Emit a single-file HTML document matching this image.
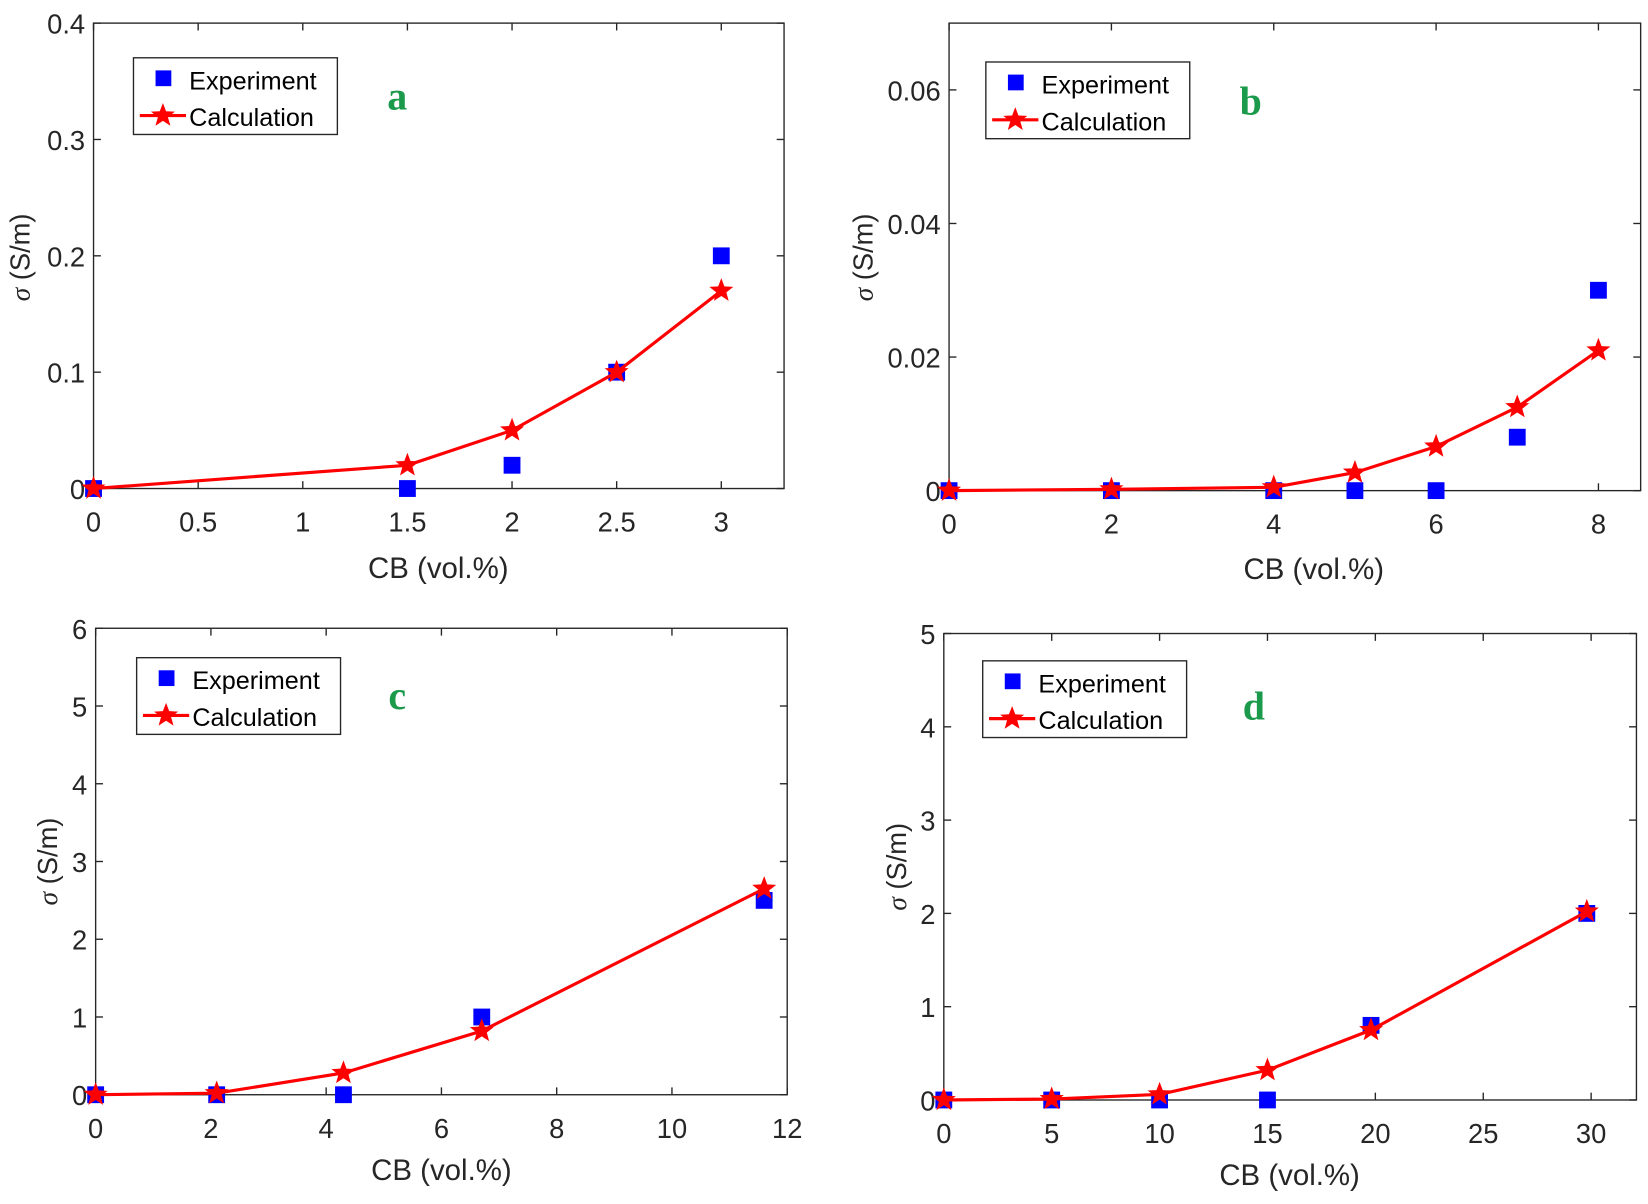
<!DOCTYPE html>
<html><head><meta charset="utf-8"><style>
html,body{margin:0;padding:0;background:#fff;}
svg{display:block;}
</style></head><body>
<svg id="s" width="1648" height="1204" viewBox="0 0 1568 1146" preserveAspectRatio="none" xmlns="http://www.w3.org/2000/svg"></svg>
<script>
const S=document.getElementById('s');let h='';
const P=[
{L:89,R:746,T:22,B:465,x0:0,x1:3.3,y1:0.4,xt:[0,0.5,1,1.5,2,2.5,3],yt:[0,0.1,0.2,0.3,0.4],
 ex:[[0,0],[1.5,0],[2,0.02],[2.5,0.1],[3,0.2]],ca:[[0,0],[1.5,0.02],[2,0.05],[2.5,0.1],[3,0.17]],
 leg:[127,55],lab:'a',lx:378,ly:104,yl:[18,245],xl:[417,550]},
{L:903,R:1561,T:22,B:467,x0:0,x1:8.52,y1:0.07,xt:[0,2,4,6,8],yt:[0,0.02,0.04,0.06],
 ex:[[0,0],[2,0],[4,0],[5,0],[6,0],[7,0.008],[8,0.03]],ca:[[0,0],[2,0.0002],[4,0.0005],[5,0.0027],[6,0.0066],[7,0.0125],[8,0.021]],
 leg:[938,59],lab:'b',lx:1190,ly:109,yl:[820,245],xl:[1250,551]},
{L:91,R:749,T:598,B:1042,x0:0,x1:12,y1:6,xt:[0,2,4,6,8,10,12],yt:[0,1,2,3,4,5,6],
 ex:[[0,0],[2.1,0],[4.3,0],[6.7,1],[11.6,2.5]],ca:[[0,0],[2.1,0.02],[4.3,0.28],[6.7,0.82],[11.6,2.65]],
 leg:[130,626],lab:'c',lx:378,ly:675,yl:[44,820],xl:[420,1123]},
{L:898,R:1557,T:603,B:1047,x0:0,x1:32.1,y1:5,xt:[0,5,10,15,20,25,30],yt:[0,1,2,3,4,5],
 ex:[[0,0],[5,0],[10,0],[15,0],[19.8,0.8],[29.8,2]],ca:[[0,0],[5,0.01],[10,0.06],[15,0.32],[19.8,0.75],[29.8,2.02]],
 leg:[935,629],lab:'d',lx:1193,ly:685,yl:[852,825],xl:[1227,1128]}
];
function star(cx,cy,r){let p=[];for(let i=0;i<10;i++){const a=-Math.PI/2+i*Math.PI/5;const rr=i%2?r*0.42:r;p.push((cx+rr*Math.cos(a)).toFixed(1)+','+(cy+rr*Math.sin(a)).toFixed(1));}return '<polygon points="'+p.join(' ')+'" fill="#f00"/>';}
const F='font-family="Liberation Sans, Arial, sans-serif"';
P.forEach(p=>{
 const X=v=>p.L+(v-p.x0)/(p.x1-p.x0)*(p.R-p.L),Y=v=>p.B-v/p.y1*(p.B-p.T);
 h+=`<rect x="${p.L}" y="${p.T}" width="${p.R-p.L}" height="${p.B-p.T}" fill="none" stroke="#262626" stroke-width="1.3"/>`;
 p.xt.forEach(t=>{const x=X(t);h+=`<line x1="${x}" y1="${p.B}" x2="${x}" y2="${p.B-7}" stroke="#262626" stroke-width="1.3"/><line x1="${x}" y1="${p.T}" x2="${x}" y2="${p.T+7}" stroke="#262626" stroke-width="1.3"/><text x="${x}" y="${p.B+41}" ${F} font-size="26" text-anchor="middle" fill="#262626">${t}</text>`;});
 p.yt.forEach(t=>{const y=Y(t);h+=`<line x1="${p.L}" y1="${y}" x2="${p.L+7}" y2="${y}" stroke="#262626" stroke-width="1.3"/><line x1="${p.R}" y1="${y}" x2="${p.R-7}" y2="${y}" stroke="#262626" stroke-width="1.3"/><text x="${p.L-8}" y="${y+10}" ${F} font-size="26" text-anchor="end" fill="#262626">${t}</text>`;});
 h+=`<text x="${p.xl[0]}" y="${p.xl[1]}" ${F} font-size="28" text-anchor="middle" fill="#262626">CB (vol.%)</text>`;
 h+=`<text transform="translate(${p.yl[0]+10},${p.yl[1]}) rotate(-90)" ${F} font-size="26" text-anchor="middle" fill="#262626"><tspan font-family="Liberation Serif, serif" font-style="italic">σ</tspan> (S/m)</text>`;
 p.ex.forEach(e=>{h+=`<rect x="${X(e[0])-8}" y="${Y(e[1])-8}" width="16" height="16" fill="#0000ff"/>`;});
 h+=`<polyline points="${p.ca.map(c=>X(c[0])+','+Y(c[1])).join(' ')}" fill="none" stroke="#f00" stroke-width="3"/>`;
 p.ca.forEach(c=>{h+=star(X(c[0]),Y(c[1]),12);});
 const [lx,ly]=p.leg;
 h+=`<rect x="${lx}" y="${ly}" width="194" height="73" fill="#fff" stroke="#262626" stroke-width="1.3"/>`;
 h+=`<rect x="${lx+21}" y="${ly+12}" width="15" height="15" fill="#0000ff"/>`;
 h+=`<text x="${lx+53}" y="${ly+30}" ${F} font-size="24" fill="#000">Experiment</text>`;
 h+=`<line x1="${lx+6}" y1="${ly+55}" x2="${lx+50}" y2="${ly+55}" stroke="#f00" stroke-width="3"/>`+star(lx+28,ly+55,12);
 h+=`<text x="${lx+53}" y="${ly+65}" ${F} font-size="24" fill="#000">Calculation</text>`;
 h+=`<text x="${p.lx}" y="${p.ly}" font-family="Liberation Serif, serif" font-weight="bold" font-size="38" text-anchor="middle" fill="#1a9a4a">${p.lab}</text>`;
});
S.innerHTML=h;
</script>
</body></html>
